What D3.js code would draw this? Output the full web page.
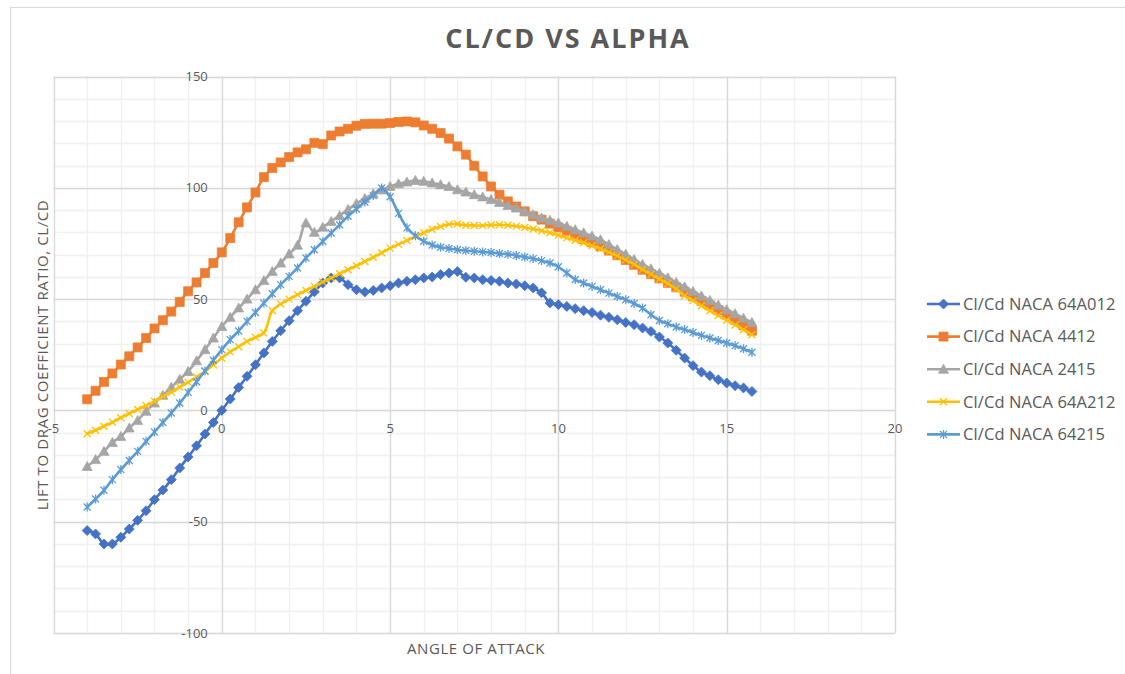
<!DOCTYPE html>
<html><head><meta charset="utf-8">
<script src="https://cdn.jsdelivr.net/npm/d3@7"></script>
<style>body{margin:0;background:#fff;} svg{display:block;font-family:"Open Sans",sans-serif;}</style>
</head><body><svg id="c" width="1125" height="674"></svg>
<script>
const alpha = [-4,-3.75,-3.5,-3.25,-3,-2.75,-2.5,-2.25,-2,-1.75,-1.5,-1.25,-1,-0.75,-0.5,-0.25,0,0.25,0.5,0.75,1,1.25,1.5,1.75,2,2.25,2.5,2.75,3,3.25,3.5,3.75,4,4.25,4.5,4.75,5,5.25,5.5,5.75,6,6.25,6.5,6.75,7,7.25,7.5,7.75,8,8.25,8.5,8.75,9,9.25,9.5,9.75,10,10.25,10.5,10.75,11,11.25,11.5,11.75,12,12.25,12.5,12.75,13,13.25,13.5,13.75,14,14.25,14.5,14.75,15,15.25,15.5,15.75];

const naca64A012 = [-54.0,-55.5,-60.0,-60.0,-57.0,-53.3,-49.4,-45.1,-40.1,-35.8,-31.1,-25.9,-20.9,-15.9,-10.6,-5.4,0,5.1,10.3,15.3,20.5,25.8,31.0,35.8,40.3,44.8,49.0,53.3,57.2,59.5,59.5,56.5,54.2,53.2,53.9,55.0,56.0,57.2,58.0,58.7,59.5,59.9,61.0,61.7,62.4,59.8,59.5,58.7,58.4,58.0,57.2,56.8,56.0,55.0,52.8,48.3,47.5,46.7,45.7,44.8,44.0,42.8,41.8,40.7,39.5,38.5,37.0,35.5,33.0,30.3,27.0,23.5,20.1,17.2,15.6,13.8,12.3,11.1,10.1,8.5];

const naca4412 = [5.0,8.8,12.8,16.6,20.6,24.3,28.3,32.5,36.8,40.5,44.4,48.7,53.5,57.5,61.7,66.2,71.0,77.4,84.5,91.2,97.9,104.8,108.9,111.4,113.8,115.9,117.3,120.2,119.6,123.5,125.3,126.5,127.9,128.7,128.8,128.8,129.1,129.6,129.8,129.4,128.0,126.5,124.6,122.1,118.6,114.9,109.9,105.1,100.6,96.9,93.9,91.6,89.4,87.2,85.7,83.9,82.2,80.7,78.9,77.0,75.5,73.7,71.8,69.7,67.6,65.4,63.2,61.2,59.3,57.3,55.3,53.3,51.2,49.2,47.2,45.1,43.0,40.7,38.2,35.8];

const naca2415 = [-25.2,-22.1,-18.4,-14.4,-11.7,-7.9,-4.5,-0.4,3.3,6.8,10.4,14.0,17.5,22.3,27.3,32.5,37.7,41.8,46.0,50.0,54.2,58.3,62.4,66.2,70.3,74.2,84.2,80.0,82.3,84.9,87.5,90.3,92.9,95.2,97.3,99.0,100.6,101.8,102.6,103.3,102.9,102.2,101.4,100.6,99.1,98.1,96.9,95.9,94.7,93.4,92.1,90.9,89.4,87.9,86.4,85.4,84.2,82.7,81.2,79.8,78.3,76.7,74.5,72.3,70.1,67.8,65.6,63.6,61.6,59.6,57.5,55.5,53.4,51.4,49.4,47.3,45.2,43.4,41.4,39.5];

const naca64A212 = [-10.5,-8.9,-7.1,-5.3,-3.3,-1.4,0.4,2.2,4.1,6.3,8.2,10.5,12.6,15.0,17.5,20.5,23.5,26.3,28.6,31.0,32.8,34.8,44.8,47.8,50.0,52.0,53.9,55.7,57.7,59.5,61.4,63.2,65.0,66.9,68.8,70.8,72.9,74.6,76.3,78.2,79.8,81.4,82.6,83.6,83.7,83.2,83.1,83.0,83.3,83.4,83.2,82.8,82.2,81.5,80.7,79.8,78.7,77.5,76.4,75.3,74.0,72.6,71.0,69.4,67.6,65.6,63.3,61.2,59.0,57.0,54.6,51.5,49.3,47.0,44.8,42.6,40.5,38.4,36.2,34.0];

const naca64215 = [-43.4,-39.8,-35.9,-31.1,-26.6,-22.5,-18.4,-13.9,-9.7,-5.4,-1.2,3.3,8.1,12.9,17.7,22.5,27.3,31.8,35.7,40.0,44.0,48.2,52.4,56.5,60.2,64.0,68.5,72.2,75.9,79.7,83.4,87.2,90.5,93.6,96.5,99.9,96.0,88.5,82.0,78.5,76.0,74.3,73.3,72.7,72.2,71.8,71.5,71.2,70.9,70.5,70.1,69.6,68.9,68.2,67.3,66.2,64.5,61.7,58.8,57.2,55.7,54.2,52.7,51.2,49.7,48.0,46.0,43.0,40.4,38.9,37.5,36.3,35.0,33.7,32.5,31.4,30.3,29.1,27.7,26.1];

const seriesNames = ["Cl/Cd NACA 64A012","Cl/Cd NACA 4412","Cl/Cd NACA 2415","Cl/Cd NACA 64A212","Cl/Cd NACA 64215"];
const seriesValues = [naca64A012, naca4412, naca2415, naca64A212, naca64215];
const seriesColors = ["#4472C4","#ED7D31","#A5A5A5","#FFC000","#5B9BD5"];
const seriesMarkers = ["diamond","square","triangle","x","star"];

const xTicks = [-5,0,5,10,15,20];
const yTicks = [-100,-50,0,50,100,150];
const chartTitle = "CL/CD VS ALPHA";
const xTitle = "ANGLE OF ATTACK";
const yTitle = "LIFT TO DRAG COEFFICIENT  RATIO, CL/CD";

const svg = d3.select("#c");
const textColor = "#595959";

// outer chart border
svg.append("rect").attr("x",10.5).attr("y",7.5).attr("width",1130).attr("height",680)
  .attr("fill","#fff").attr("stroke","#d9d9d9");

const x = d3.scaleLinear().domain([-5,20]).range([53.5,895]);
const y = d3.scaleLinear().domain([-100,150]).range([633,76.5]);

// minor grid
const g = svg.append("g");
g.selectAll(".vmin").data(d3.range(-5,21,1)).join("line")
  .attr("x1",d=>Math.round(x(d))+0.5).attr("x2",d=>Math.round(x(d))+0.5)
  .attr("y1",y(150)).attr("y2",y(-100)).attr("stroke","#f0f0f0").attr("stroke-width",1.3);
g.selectAll(".hmin").data(d3.range(-100,151,10)).join("line")
  .attr("y1",d=>Math.round(y(d))+0.5).attr("y2",d=>Math.round(y(d))+0.5)
  .attr("x1",x(-5)).attr("x2",x(20)).attr("stroke","#f0f0f0").attr("stroke-width",1.3);
// major grid
g.selectAll(".vmaj").data(xTicks).join("line")
  .attr("x1",d=>Math.round(x(d))+0.5).attr("x2",d=>Math.round(x(d))+0.5)
  .attr("y1",y(150)).attr("y2",y(-100)).attr("stroke","#d9d9d9").attr("stroke-width",1.3);
g.selectAll(".hmaj").data(yTicks).join("line")
  .attr("y1",d=>Math.round(y(d))+0.5).attr("y2",d=>Math.round(y(d))+0.5)
  .attr("x1",x(-5)).attr("x2",x(20)).attr("stroke","#d9d9d9").attr("stroke-width",1.3);

// tick labels
svg.append("g").selectAll("text").data(yTicks).join("text")
  .attr("x",x(0)-14).attr("y",d=>y(d)).attr("dy","0.35em").attr("text-anchor","end")
  .attr("font-size",13).attr("fill",textColor).text(d=>d);
svg.append("g").selectAll("text").data(xTicks).join("text")
  .attr("x",d=>x(d)).attr("y",y(0)+18).attr("dy","0.35em").attr("text-anchor","middle")
  .attr("font-size",13).attr("fill",textColor).text(d=>d);

// titles
svg.append("text").attr("x",568).attr("y",48).attr("text-anchor","middle")
  .attr("font-size",27).attr("font-weight","bold").attr("letter-spacing","2px")
  .attr("fill",textColor).text(chartTitle);
svg.append("text").attr("x",476).attr("y",654).attr("text-anchor","middle")
  .attr("font-size",15).attr("letter-spacing","0.6px").attr("fill",textColor).text(xTitle);
svg.append("text").attr("transform","translate(48,355) rotate(-90)").attr("text-anchor","middle")
  .attr("font-size",15).attr("letter-spacing","0.6px").attr("fill",textColor).text(yTitle);

const markerPath = {
  diamond: "M0,-5L5,0L0,5L-5,0Z",
  square: "M-4.5,-4.5h9v9h-9Z",
  triangle: "M0,-5L5,4L-5,4Z",
  x: "M-3.5,-3.5L3.5,3.5M-3.5,3.5L3.5,-3.5",
  star: "M-3.5,-3.5L3.5,3.5M-3.5,3.5L3.5,-3.5M0,-4.5L0,4.5"
};
function drawMarker(sel, type, color){
  const filled = ["diamond","square","triangle"].includes(type);
  sel.attr("d", markerPath[type])
    .attr("fill", filled ? color : "none")
    .attr("stroke", color)
    .attr("stroke-width", filled ? 0.75 : 1.3);
}

const line = d3.line().x((d,i)=>x(alpha[i])).y(d=>y(d)).curve(d3.curveCatmullRom.alpha(0.5));

seriesValues.forEach((vals,si)=>{
  const sg = svg.append("g");
  sg.append("path").attr("d", line(vals)).attr("fill","none")
    .attr("stroke", seriesColors[si]).attr("stroke-width",2.6).attr("stroke-linejoin","round").attr("stroke-linecap","round");
  sg.selectAll("path.m").data(vals).join("path").attr("class","m")
    .attr("transform",(d,i)=>`translate(${x(alpha[i])},${y(d)})`)
    .call(s=>drawMarker(s, seriesMarkers[si], seriesColors[si]));
});

// legend
const lg = svg.append("g");
seriesNames.forEach((name,i)=>{
  const ly = 304 + i*32.6;
  lg.append("line").attr("x1",927).attr("x2",960).attr("y1",ly).attr("y2",ly)
    .attr("stroke",seriesColors[i]).attr("stroke-width",2.6);
  lg.append("path").attr("transform",`translate(943.5,${ly})`).call(s=>drawMarker(s, seriesMarkers[i], seriesColors[i]));
  lg.append("text").attr("x",963).attr("y",ly).attr("dy","0.35em")
    .attr("font-size",16.5).attr("letter-spacing","0.1px").attr("fill",textColor).text(name);
});
</script>
</body></html>
